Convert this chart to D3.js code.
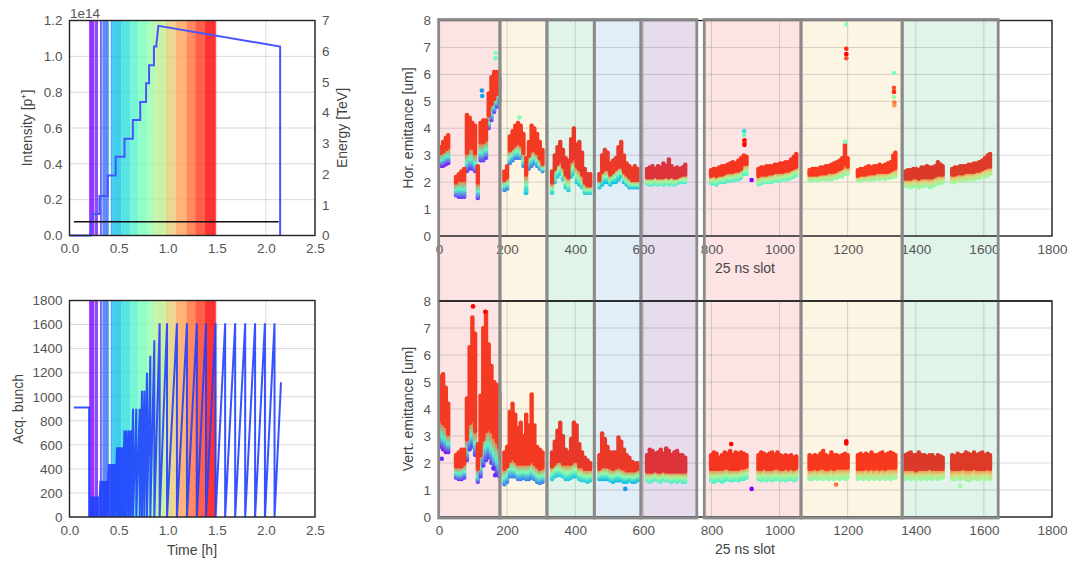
<!DOCTYPE html>
<html>
<head>
<meta charset="utf-8">
<script src="https://cdn.jsdelivr.net/npm/d3@7"></script>
<style>
  body { margin: 0; background: #fff; }
  text { font-family: "Liberation Sans", Arial, sans-serif; }
</style>
</head>
<body>
<svg id="chart" width="1075" height="561"></svg>
<script>
// ---------- data ----------
// tick labels
var timeTicks = [0, 0.5, 1.0, 1.5, 2.0, 2.5];
var intTicks = [0, 0.2, 0.4, 0.6, 0.8, 1.0, 1.2];
var energyTicks = [0, 1, 2, 3, 4, 5, 6, 7];
var bunchTicks = [0, 200, 400, 600, 800, 1000, 1200, 1400, 1600, 1800];
var slotTicks = [0, 200, 400, 600, 800, 1000, 1200, 1400, 1600, 1800];
var emitTicks = [0, 1, 2, 3, 4, 5, 6, 7, 8];

// snapshot bands (time in h, colour = position on rainbow map)
var bandStart = [0.20, 0.255, 0.31, 0.335, 0.42, 0.44, 0.53, 0.62, 0.70, 0.79, 0.875, 0.98, 1.08, 1.19, 1.28, 1.38];
var bandEnd   = [0.25, 0.29, 0.33, 0.40, 0.44, 0.53, 0.62, 0.70, 0.79, 0.875, 0.98, 1.08, 1.19, 1.28, 1.38, 1.49];
var bandColor = [0.0, 0.04, 0.09, 0.14, 0.22, 0.28, 0.34, 0.41, 0.48, 0.55, 0.62, 0.70, 0.78, 0.86, 0.93, 1.0];

// intensity (1e14 p) and energy (TeV) vs time
var intT = [0.0, 0.215, 0.23, 0.305, 0.305, 0.39, 0.39, 0.47, 0.47, 0.56, 0.56, 0.645, 0.645, 0.72, 0.72, 0.78, 0.78, 0.81, 0.81, 0.86, 0.86, 0.885, 0.885, 0.905, 2.145, 2.145];
var intV = [0.0, 0.0, 0.12, 0.12, 0.22, 0.22, 0.335, 0.335, 0.44, 0.44, 0.54, 0.54, 0.645, 0.645, 0.745, 0.745, 0.85, 0.85, 0.95, 0.95, 1.055, 1.055, 1.07, 1.17, 1.055, 0.0];
var energyT = [0.045, 2.13];
var energyV = [0.45, 0.45];

// acquired bunch: scans before injection, scan peaks, last partial scan
var acqPreT = [0.045, 0.20];
var acqPreN = [910, 910];
var acqPeakT = [0.215, 0.23, 0.247, 0.264, 0.281, 0.298, 0.315, 0.332, 0.349, 0.363, 0.376, 0.40, 0.42, 0.44, 0.46,
  0.484, 0.50, 0.518, 0.54, 0.559, 0.58, 0.603, 0.625, 0.647, 0.68, 0.715, 0.738, 0.762, 0.789, 0.823, 0.864,
  0.918, 0.993, 1.094, 1.196, 1.297, 1.39, 1.487, 1.585, 1.687, 1.789, 1.89, 1.99, 2.088];
var acqPeakN = [170, 170, 170, 170, 170, 170, 300, 300, 300, 300, 300, 440, 440, 440, 440,
  580, 580, 580, 580, 720, 720, 720, 720, 900, 900, 900, 1050, 1050, 1200, 1340, 1470,
  1610, 1610, 1610, 1610, 1610, 1610, 1610, 1610, 1610, 1610, 1610, 1610, 1610];
var acqLastT = 2.154;
var acqLastN = 1120;

// filling-pattern boxes (25 ns slots)
var boxStart = [-1, 179, 317, 456, 593, 779, 1063, 1360];
var boxEnd   = [179, 317, 456, 593, 757, 1063, 1360, 1642];

// bunch trains: first slot and earliest snapshot colour
var trainStart = [0, 40, 185, 325, 465, 605, 790, 930, 1080, 1220, 1360, 1500];
var trainFirstColor = [0.0, 0.05, 0.15, 0.28, 0.25, 0.38, 0.38, 0.42, 0.5, 0.52, 0.52, 0.55];

// sampled slots
var slots = [4, 12, 20, 27,
  50, 58, 66, 74, 82, 90, 98, 106, 114, 122, 130, 138, 146, 154, 162, 170, 177,
  192, 200, 208, 216, 224, 232, 240, 248, 256, 264, 272, 280, 288, 296, 304,
  332, 340, 348, 356, 364, 372, 380, 388, 396, 404, 412, 420, 428, 436, 444,
  471, 479, 487, 495, 503, 511, 519, 527, 535, 543, 551, 559, 567, 575, 583,
  611, 619, 627, 635, 643, 651, 659, 667, 675, 683, 691, 699, 707, 715, 723,
  799, 807, 815, 823, 831, 839, 847, 855, 863, 871, 879, 887, 895, 903,
  938, 946, 954, 962, 970, 978, 986, 994, 1002, 1010, 1018, 1026, 1034, 1042, 1049,
  1088, 1096, 1104, 1112, 1120, 1128, 1136, 1144, 1152, 1160, 1168, 1176, 1184, 1192, 1200,
  1230, 1238, 1246, 1254, 1262, 1270, 1278, 1286, 1294, 1302, 1310, 1318, 1326, 1334, 1340,
  1369, 1377, 1385, 1393, 1401, 1409, 1417, 1425, 1433, 1441, 1449, 1457, 1465, 1473, 1479,
  1507, 1515, 1523, 1531, 1539, 1547, 1555, 1563, 1571, 1579, 1587, 1595, 1603, 1611, 1618];

// horizontal emittance: lowest (first snapshot), start of late snapshots, highest
var hLo = [2.6, 2.6, 2.65, 2.7,
  1.5, 1.45, 1.45, 1.45, 2.4, 2.5, 2.5, 2.4, 1.4, 2.8, 2.8, 2.9, 4.0, 4.3, 4.6, 4.8, 5.0,
  1.7, 1.75, 2.7, 2.8, 2.9, 2.9, 2.9, 2.6, 1.6, 2.5, 2.6, 2.7, 2.6, 2.5, 2.4,
  1.6, 2.0, 2.2, 2.3, 2.1, 1.8, 1.7, 2.2, 2.3, 2.0, 1.9, 1.8, 1.6, 1.6, 1.6,
  1.8, 1.9, 2.0, 2.0, 1.9, 2.0, 2.0, 2.1, 2.2, 2.0, 1.9, 1.8, 1.8, 1.8, 1.8,
  1.95, 1.9, 1.9, 1.95, 1.9, 1.95, 1.9, 1.95, 1.9, 1.95, 1.9, 1.95, 2.0, 2.0, 2.0,
  1.95, 1.95, 1.9, 2.0, 2.0, 2.0, 2.05, 2.05, 2.05, 2.1, 2.1, 2.15, 2.3, 2.3,
  1.9, 1.95, 2.0, 2.0, 2.0, 2.0, 2.05, 2.05, 2.05, 2.1, 2.1, 2.1, 2.15, 2.2, 2.25,
  2.05, 2.05, 2.1, 2.05, 2.1, 2.1, 2.1, 2.1, 2.1, 2.15, 2.15, 2.2, 2.2, 2.3, 2.3,
  2.05, 2.05, 2.1, 2.1, 2.1, 2.1, 2.1, 2.15, 2.1, 2.15, 2.1, 2.15, 2.15, 2.2, 2.2,
  1.85, 1.85, 1.8, 1.85, 1.85, 1.8, 1.85, 1.85, 1.9, 1.8, 1.85, 1.9, 1.95, 1.95, 2.0,
  2.0, 2.0, 2.05, 2.05, 2.05, 2.1, 2.1, 2.1, 2.1, 2.15, 2.15, 2.2, 2.2, 2.25, 2.3];
var hMid = [3.0, 3.05, 3.15, 3.2,
  1.9, 2.0, 2.0, 2.0, 3.0, 3.2, 3.2, 3.0, 1.9, 3.4, 3.4, 3.5, 4.4, 4.8, 5.0, 5.2, 5.3,
  2.0, 2.1, 3.1, 3.2, 3.3, 3.4, 3.3, 3.0, 2.2, 2.9, 3.1, 3.1, 3.0, 2.8, 2.6,
  1.9, 2.4, 2.6, 2.7, 2.5, 2.2, 2.1, 2.7, 2.8, 2.5, 2.4, 2.2, 1.9, 1.8, 1.8,
  2.0, 2.3, 2.4, 2.4, 2.2, 2.3, 2.4, 2.5, 2.5, 2.3, 2.2, 2.1, 2.0, 2.0, 2.0,
  2.1, 2.1, 2.1, 2.15, 2.1, 2.1, 2.1, 2.15, 2.1, 2.15, 2.1, 2.1, 2.15, 2.2, 2.2,
  2.15, 2.2, 2.15, 2.2, 2.2, 2.25, 2.3, 2.3, 2.3, 2.35, 2.35, 2.4, 2.6, 2.6,
  2.15, 2.2, 2.2, 2.2, 2.25, 2.25, 2.3, 2.3, 2.3, 2.3, 2.35, 2.35, 2.4, 2.45, 2.5,
  2.2, 2.2, 2.2, 2.2, 2.25, 2.25, 2.25, 2.3, 2.3, 2.3, 2.35, 2.4, 2.45, 2.6, 2.5,
  2.15, 2.2, 2.2, 2.2, 2.25, 2.25, 2.25, 2.3, 2.3, 2.3, 2.3, 2.3, 2.35, 2.4, 2.45,
  2.05, 2.05, 2.05, 2.1, 2.1, 2.05, 2.1, 2.1, 2.1, 2.1, 2.1, 2.15, 2.2, 2.2, 2.2,
  2.2, 2.2, 2.25, 2.25, 2.25, 2.3, 2.3, 2.3, 2.3, 2.35, 2.35, 2.4, 2.45, 2.5, 2.5];
var hHi = [3.3, 3.5, 3.65, 3.75,
  2.2, 2.3, 2.4, 2.5, 4.5, 4.4, 4.2, 4.1, 2.6, 4.2, 4.3, 4.3, 5.3, 5.9, 6.1, 6.1, 5.9,
  2.4, 2.6, 3.7, 3.9, 4.1, 4.2, 4.1, 3.8, 2.9, 3.5, 4.1, 4.0, 3.8, 3.5, 3.2,
  2.4, 3.0, 3.3, 3.5, 3.2, 2.9, 2.8, 3.6, 4.0, 3.4, 3.5, 3.1, 2.5, 2.3, 2.3,
  2.3, 3.0, 3.2, 3.1, 2.7, 2.8, 2.9, 3.3, 3.5, 3.0, 2.7, 2.6, 2.5, 2.6, 2.5,
  2.5, 2.55, 2.6, 2.5, 2.6, 2.55, 2.7, 2.6, 2.85, 2.6, 2.5, 2.55, 2.5, 2.55, 2.65,
  2.45, 2.5, 2.5, 2.55, 2.6, 2.6, 2.65, 2.7, 2.75, 2.7, 2.8, 2.9, 3.0, 2.95,
  2.5, 2.55, 2.55, 2.6, 2.6, 2.6, 2.65, 2.65, 2.7, 2.7, 2.75, 2.75, 2.85, 2.95, 3.05,
  2.45, 2.5, 2.5, 2.5, 2.55, 2.55, 2.6, 2.6, 2.65, 2.7, 2.75, 2.8, 2.9, 3.4, 2.9,
  2.45, 2.5, 2.5, 2.55, 2.6, 2.55, 2.6, 2.6, 2.65, 2.6, 2.65, 2.7, 2.75, 3.0, 3.1,
  2.4, 2.45, 2.45, 2.5, 2.5, 2.45, 2.55, 2.55, 2.6, 2.55, 2.55, 2.6, 2.75, 2.65, 2.6,
  2.5, 2.55, 2.55, 2.6, 2.6, 2.6, 2.65, 2.65, 2.7, 2.7, 2.75, 2.8, 2.9, 3.0, 3.05];

// vertical emittance
var vLo = [2.6, 2.5, 2.4, 2.4,
  1.45, 1.4, 1.4, 1.45, 2.1, 2.5, 2.6, 2.3, 1.3, 1.5, 1.9, 2.1, 2.2, 2.0, 1.8, 1.6, 1.5,
  1.2, 1.3, 1.5, 1.5, 1.5, 1.4, 1.4, 1.45, 1.4, 1.4, 1.45, 1.4, 1.3, 1.25, 1.3,
  1.4, 1.5, 1.55, 1.55, 1.5, 1.4, 1.4, 1.45, 1.5, 1.5, 1.4, 1.35, 1.35, 1.3, 1.35,
  1.4, 1.4, 1.4, 1.4, 1.35, 1.3, 1.35, 1.35, 1.35, 1.3, 1.3, 1.35, 1.3, 1.3, 1.35,
  1.35, 1.3, 1.35, 1.4, 1.35, 1.3, 1.4, 1.35, 1.35, 1.3, 1.35, 1.3, 1.35, 1.3, 1.3,
  1.35, 1.3, 1.35, 1.35, 1.3, 1.35, 1.4, 1.35, 1.35, 1.4, 1.35, 1.4, 1.4, 1.45,
  1.4, 1.35, 1.4, 1.35, 1.4, 1.35, 1.4, 1.4, 1.35, 1.4, 1.35, 1.4, 1.4, 1.35, 1.4,
  1.4, 1.4, 1.45, 1.4, 1.45, 1.4, 1.45, 1.4, 1.45, 1.4, 1.45, 1.4, 1.45, 1.4, 1.45,
  1.4, 1.45, 1.4, 1.45, 1.4, 1.45, 1.4, 1.45, 1.4, 1.45, 1.4, 1.45, 1.4, 1.45, 1.45,
  1.4, 1.45, 1.4, 1.45, 1.4, 1.45, 1.4, 1.45, 1.4, 1.45, 1.4, 1.45, 1.4, 1.45, 1.45,
  1.4, 1.4, 1.45, 1.4, 1.45, 1.4, 1.35, 1.4, 1.45, 1.4, 1.4, 1.45, 1.4, 1.45, 1.4];
var vMid = [3.5, 3.4, 3.3, 3.0,
  1.8, 1.8, 1.8, 1.9, 2.8, 3.4, 3.5, 3.1, 1.7, 2.2, 2.8, 3.1, 3.2, 3.1, 2.9, 2.7, 2.5,
  1.7, 1.8, 2.0, 2.1, 2.0, 1.9, 1.9, 1.9, 1.9, 1.9, 2.0, 1.9, 1.8, 1.7, 1.75,
  1.8, 1.9, 2.0, 2.0, 1.9, 1.9, 1.9, 1.9, 2.0, 2.0, 1.8, 1.8, 1.7, 1.7, 1.7,
  1.7, 1.8, 1.8, 1.8, 1.75, 1.7, 1.75, 1.8, 1.75, 1.7, 1.65, 1.65, 1.65, 1.65, 1.7,
  1.6, 1.6, 1.6, 1.65, 1.6, 1.6, 1.65, 1.6, 1.6, 1.6, 1.6, 1.6, 1.6, 1.6, 1.6,
  1.7, 1.7, 1.7, 1.7, 1.7, 1.75, 1.75, 1.7, 1.7, 1.7, 1.7, 1.75, 1.75, 1.8,
  1.7, 1.7, 1.75, 1.7, 1.7, 1.7, 1.75, 1.75, 1.7, 1.7, 1.75, 1.7, 1.75, 1.7, 1.75,
  1.7, 1.7, 1.75, 1.7, 1.75, 1.75, 1.7, 1.7, 1.75, 1.7, 1.75, 1.75, 1.75, 1.75, 1.75,
  1.7, 1.7, 1.7, 1.75, 1.7, 1.75, 1.7, 1.75, 1.7, 1.75, 1.7, 1.75, 1.75, 1.75, 1.75,
  1.7, 1.7, 1.7, 1.7, 1.65, 1.7, 1.7, 1.7, 1.7, 1.75, 1.7, 1.7, 1.7, 1.7, 1.7,
  1.7, 1.7, 1.7, 1.7, 1.75, 1.7, 1.7, 1.7, 1.75, 1.7, 1.7, 1.7, 1.7, 1.75, 1.7];
var vHi = [5.2, 5.3, 4.8, 4.2,
  2.3, 2.4, 2.5, 2.5, 4.4, 6.3, 7.4, 6.8, 2.7, 4.5, 7.0, 7.6, 6.4, 5.6, 5.0, 4.9, 4.6,
  2.4, 2.6, 3.9, 4.2, 3.8, 3.3, 3.5, 3.0, 3.8, 3.4, 4.55, 3.4, 2.6, 2.5, 2.4,
  2.4, 2.8, 3.2, 3.5, 3.0, 2.5, 2.4, 2.9, 3.5, 3.4, 2.7, 2.4, 2.2, 2.1, 2.0,
  2.3, 3.1, 2.9, 2.6, 2.4, 2.4, 2.4, 2.95, 2.8, 2.5, 2.3, 2.2, 2.05, 2.0, 2.0,
  2.3, 2.5, 2.45, 2.35, 2.4, 2.5, 2.35, 2.55, 2.45, 2.3, 2.4, 2.45, 2.3, 2.3, 2.2,
  2.3, 2.4, 2.35, 2.2, 2.3, 2.4, 2.35, 2.45, 2.3, 2.4, 2.35, 2.4, 2.35, 2.3,
  2.3, 2.4, 2.35, 2.3, 2.35, 2.4, 2.3, 2.4, 2.3, 2.25, 2.3, 2.25, 2.3, 2.2, 2.25,
  2.3, 2.25, 2.3, 2.25, 2.35, 2.45, 2.3, 2.25, 2.4, 2.3, 2.3, 2.25, 2.3, 2.35, 2.3,
  2.3, 2.35, 2.3, 2.35, 2.3, 2.4, 2.3, 2.3, 2.35, 2.4, 2.3, 2.35, 2.4, 2.35, 2.3,
  2.3, 2.35, 2.4, 2.3, 2.3, 2.4, 2.3, 2.3, 2.25, 2.3, 2.3, 2.2, 2.3, 2.25, 2.2,
  2.3, 2.25, 2.35, 2.3, 2.3, 2.4, 2.35, 2.3, 2.4, 2.3, 2.35, 2.4, 2.3, 2.35, 2.3];

// isolated points: [slot, emittance, snapshot colour]
var hOutliers = [[896, 3.9, 0.35], [896, 3.75, 0.45], [897, 3.55, 1], [897, 3.45, 0.95], [897, 3.38, 1],
  [918, 2.08, 0.0], [1196, 7.85, 0.5], [1196, 6.95, 0.95], [1196, 6.75, 1], [1196, 6.6, 0.9],
  [1336, 6.05, 0.5], [1336, 5.5, 0.9], [1336, 5.35, 0.95], [1336, 5.15, 0.55], [1337, 4.95, 0.85],
  [1337, 4.85, 0.8], [1192, 3.5, 0.5], [126, 5.4, 0.2], [127, 5.2, 0.22], [166, 6.8, 0.5],
  [166, 6.6, 0.45], [255, 1.6, 0.3], [255, 1.7, 0.35], [236, 4.4, 0.5]];
var vOutliers = [[8, 2.16, 0.05], [918, 1.04, 0.0], [547, 1.04, 0.2], [858, 2.7, 1], [1196, 2.8, 1],
  [1196, 2.72, 1], [1166, 1.2, 0.85], [1530, 1.15, 0.55], [160, 1.8, 0.05], [165, 1.55, 0.05],
  [100, 7.8, 1], [136, 7.6, 1]];

// ---------- styles ----------
var boxFill = ['#fde4e4', '#fdf5e4', '#e1f4ea', '#e1eef8', '#e7dbee', '#fde4e4', '#fdf5e4', '#e1f4ea'];
var trainRed = ['#f43a22', '#f43a22', '#f43a22', '#e9382a', '#ec3a28', '#dd333a', '#f5351f', '#f5351f', '#f8391d', '#f8391d', '#db3a2a', '#dd3b27'];
var FONT = '"Liberation Sans", Arial, sans-serif';

// matplotlib "rainbow" colormap
function rainbow(x) {
  var r = Math.min(1, Math.abs(2 * x - 0.5));
  var g = Math.sin(Math.PI * x);
  var b = Math.cos(Math.PI * x / 2);
  return d3.rgb(r * 255, g * 255, b * 255).formatHex();
}

var svg = d3.select('#chart');

// scales
var xTime = d3.scaleLinear().domain([0, 2.5]).range([69.5, 315]);
var yInt = d3.scaleLinear().domain([0, 1.2]).range([235.5, 20.5]);
var yEn = d3.scaleLinear().domain([0, 7]).range([235.5, 20.5]);
var yBunch = d3.scaleLinear().domain([0, 1800]).range([517, 300.5]);
var xSlot = d3.scaleLinear().domain([0, 1800]).range([439, 1052]);
var yHor = d3.scaleLinear().domain([0, 8]).range([236, 20.5]);
var yVer = d3.scaleLinear().domain([0, 8]).range([517, 301]);

// ---------- box fills (behind both right panels) ----------
var boxG = svg.append('g');
boxG.selectAll('rect').data(boxStart).join('rect')
  .attr('x', function(d) { return xSlot(d); })
  .attr('width', function(d, i) { return xSlot(boxEnd[i]) - xSlot(d); })
  .attr('y', yHor(8) - 1)
  .attr('height', yVer(0) - yHor(8) + 2)
  .attr('fill', function(d, i) { return boxFill[i]; });

// ---------- grids ----------
function grid(x, y, xt, yt) {
  var g = svg.append('g').attr('stroke', 'rgba(0,0,0,0.15)').attr('stroke-width', 1);
  g.selectAll('line.gx').data(xt).join('line').attr('class', 'gx')
    .attr('x1', function(d) { return x(d); }).attr('x2', function(d) { return x(d); })
    .attr('y1', y.range()[0]).attr('y2', y.range()[1]);
  g.selectAll('line.gy').data(yt).join('line').attr('class', 'gy')
    .attr('y1', function(d) { return y(d); }).attr('y2', function(d) { return y(d); })
    .attr('x1', x.range()[0]).attr('x2', x.range()[1]);
}
grid(xTime, yInt, timeTicks, intTicks);
grid(xTime, yBunch, timeTicks, bunchTicks);
grid(xSlot, yHor, slotTicks, emitTicks);
grid(xSlot, yVer, slotTicks, emitTicks);

// ---------- snapshot bands on the left panels ----------
[yInt, yBunch].forEach(function(y) {
  svg.append('g').selectAll('rect').data(bandStart).join('rect')
    .attr('x', function(d) { return xTime(d); })
    .attr('width', function(d, i) { return xTime(bandEnd[i]) - xTime(d); })
    .attr('y', y.range()[1])
    .attr('height', y.range()[0] - y.range()[1])
    .attr('fill', function(d, i) { return rainbow(bandColor[i]); })
    .attr('fill-opacity', 0.8);
});

// ---------- axes ----------
function axisStyle(g) {
  g.attr('font-family', FONT).attr('font-size', 13.5);
  g.select('.domain').remove();
  g.selectAll('.tick line').remove();
  g.selectAll('.tick text').attr('fill', '#555');
}
var f1 = d3.format('.1f');
svg.append('g').attr('transform', 'translate(0,235.5)')
  .call(d3.axisBottom(xTime).tickValues(timeTicks).tickFormat(f1).tickSize(0).tickPadding(8)).call(axisStyle);
svg.append('g').attr('transform', 'translate(69.5,0)')
  .call(d3.axisLeft(yInt).tickValues(intTicks).tickFormat(f1).tickSize(0).tickPadding(7)).call(axisStyle);
svg.append('g').attr('transform', 'translate(315,0)')
  .call(d3.axisRight(yEn).tickValues(energyTicks).tickFormat(d3.format('d')).tickSize(0).tickPadding(7)).call(axisStyle);
svg.append('g').attr('transform', 'translate(0,517)')
  .call(d3.axisBottom(xTime).tickValues(timeTicks).tickFormat(f1).tickSize(0).tickPadding(8)).call(axisStyle);
svg.append('g').attr('transform', 'translate(69.5,0)')
  .call(d3.axisLeft(yBunch).tickValues(bunchTicks).tickFormat(d3.format('d')).tickSize(0).tickPadding(7)).call(axisStyle);
svg.append('g').attr('transform', 'translate(0,236)')
  .call(d3.axisBottom(xSlot).tickValues(slotTicks).tickFormat(d3.format('d')).tickSize(0).tickPadding(8)).call(axisStyle);
svg.append('g').attr('transform', 'translate(439,0)')
  .call(d3.axisLeft(yHor).tickValues(emitTicks).tickFormat(d3.format('d')).tickSize(0).tickPadding(8)).call(axisStyle);
svg.append('g').attr('transform', 'translate(0,517)')
  .call(d3.axisBottom(xSlot).tickValues(slotTicks).tickFormat(d3.format('d')).tickSize(0).tickPadding(8)).call(axisStyle);
svg.append('g').attr('transform', 'translate(439,0)')
  .call(d3.axisLeft(yVer).tickValues(emitTicks).tickFormat(d3.format('d')).tickSize(0).tickPadding(8)).call(axisStyle);

// axis titles
function title(txt, x, y, rot) {
  svg.append('text').attr('x', x).attr('y', y).attr('dy', '0.35em')
    .attr('text-anchor', 'middle').attr('font-family', FONT).attr('font-size', 14).attr('fill', '#444')
    .attr('transform', rot ? 'rotate(-90,' + x + ',' + y + ')' : null)
    .text(txt);
}
title('Intensity [p\u207A]', 27, 128, true);
title('Energy [TeV]', 342, 128, true);
title('Acq. bunch', 18, 409, true);
title('Time [h]', 192, 550, false);
title('Hor. emittance [um]', 408, 128, true);
title('Vert. emittance [um]', 408, 409, true);
title('25 ns slot', 745, 268, false);
title('25 ns slot', 745, 549, false);
svg.append('text').attr('x', 70).attr('y', 13).attr('dy', '0.35em')
  .attr('font-family', FONT).attr('font-size', 13.5).attr('fill', '#555').text('1e14');

// ---------- left panel lines ----------
var intLine = d3.line().x(function(d) { return xTime(d[0]); }).y(function(d) { return yInt(d[1]); });
svg.append('path').attr('d', intLine(intT.map(function(t, i) { return [t, intV[i]]; })))
  .attr('fill', 'none').attr('stroke', '#4656ff').attr('stroke-width', 2);
var enLine = d3.line().x(function(d) { return xTime(d[0]); }).y(function(d) { return yEn(d[1]); });
svg.append('path').attr('d', enLine(energyT.map(function(t, i) { return [t, energyV[i]]; })))
  .attr('fill', 'none').attr('stroke', '#111').attr('stroke-width', 1.5);

var acqPts = acqPreT.map(function(t, i) { return [t, acqPreN[i]]; });
acqPts.push([acqPreT[1], 0]);
acqPeakT.forEach(function(t, i) { acqPts.push([t, acqPeakN[i]]); acqPts.push([t, 0]); });
acqPts.push([acqLastT, acqLastN]);
var acqLine = d3.line().x(function(d) { return xTime(d[0]); }).y(function(d) { return yBunch(d[1]); });
svg.append('path').attr('d', acqLine(acqPts))
  .attr('fill', 'none').attr('stroke', '#2040ff').attr('stroke-width', 2).attr('stroke-opacity', 0.9);

// ---------- emittance scatter ----------
var defs = svg.append('defs');
trainFirstColor.forEach(function(c, i) {
  var gr = defs.append('linearGradient').attr('id', 'tg' + i)
    .attr('x1', 0).attr('y1', 1).attr('x2', 0).attr('y2', 0);
  gr.append('stop').attr('offset', 0).attr('stop-color', rainbow(c));
  gr.append('stop').attr('offset', 0.5).attr('stop-color', rainbow((c + 0.8) / 2));
  gr.append('stop').attr('offset', 1).attr('stop-color', rainbow(0.85));
});
function trainOf(s) { return d3.bisectRight(trainStart, s) - 1; }

function columns(y, lo, mid, hi, outliers) {
  var g = svg.append('g');
  var idx = d3.range(slots.length);
  var w = 4.4;
  g.selectAll('rect.lo').data(idx).join('rect').attr('class', 'lo')
    .attr('x', function(i) { return xSlot(slots[i]) - w / 2; })
    .attr('width', w)
    .attr('y', function(i) { return y(mid[i]) - 2; })
    .attr('height', function(i) { return y(lo[i]) - y(mid[i]) + 4; })
    .attr('rx', 2)
    .attr('fill', function(i) { return 'url(#tg' + trainOf(slots[i]) + ')'; });
  g.selectAll('rect.hi').data(idx).join('rect').attr('class', 'hi')
    .attr('x', function(i) { return xSlot(slots[i]) - w / 2; })
    .attr('width', w)
    .attr('y', function(i) { return y(hi[i]) - 2; })
    .attr('height', function(i) { return y(mid[i]) - y(hi[i]) + 2; })
    .attr('rx', 2)
    .attr('fill', function(i) { return trainRed[trainOf(slots[i])]; });
  g.selectAll('circle').data(outliers).join('circle')
    .attr('cx', function(d) { return xSlot(d[0]); })
    .attr('cy', function(d) { return y(d[1]); })
    .attr('r', 2.3)
    .attr('fill', function(d) { return rainbow(d[2]); });
}
columns(yHor, hLo, hMid, hHi, hOutliers);
columns(yVer, vLo, vMid, vHi, vOutliers);

// ---------- frames and box borders ----------
function frame(x, y) {
  svg.append('rect').attr('x', x.range()[0]).attr('y', y.range()[1])
    .attr('width', x.range()[1] - x.range()[0]).attr('height', y.range()[0] - y.range()[1])
    .attr('fill', 'none').attr('stroke', '#222').attr('stroke-width', 1.4);
}
frame(xTime, yInt);
frame(xTime, yBunch);
frame(xSlot, yHor);
frame(xSlot, yVer);

svg.append('g').selectAll('rect').data(boxStart).join('rect')
  .attr('x', function(d) { return xSlot(d); })
  .attr('width', function(d, i) { return xSlot(boxEnd[i]) - xSlot(d); })
  .attr('y', yHor(8) - 1)
  .attr('height', yVer(0) - yHor(8) + 2)
  .attr('fill', 'none').attr('stroke', '#8a8a8a').attr('stroke-width', 2.8);

svg.append('line').attr('x1', xSlot.range()[0]).attr('x2', xSlot.range()[1])
  .attr('y1', yVer(8)).attr('y2', yVer(8)).attr('stroke', '#222').attr('stroke-width', 1.4);
</script>
</body>
</html>
